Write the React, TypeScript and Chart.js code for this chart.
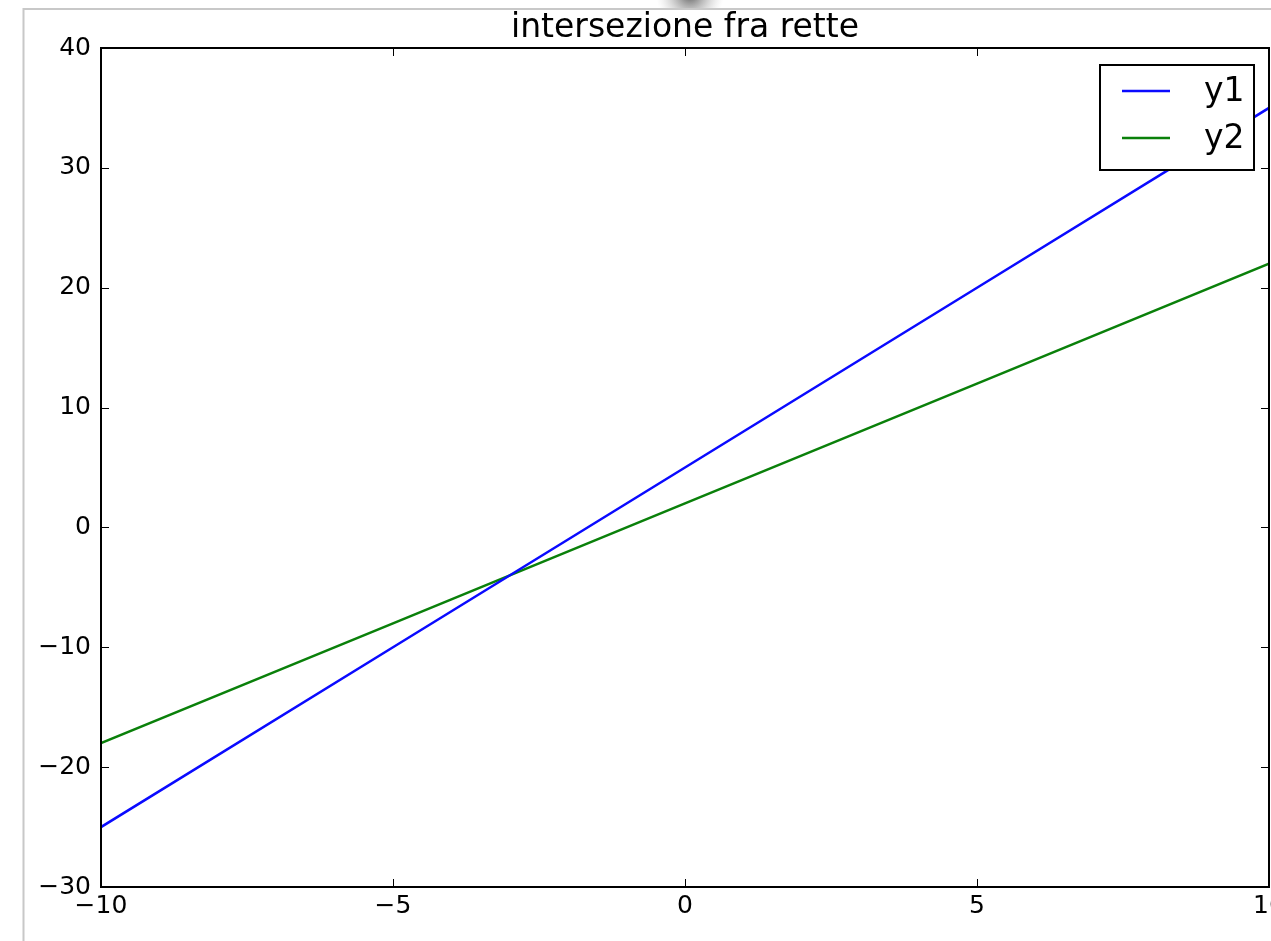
import React, { useEffect, useRef } from "react";
import { Chart, registerables } from "chart.js";

Chart.register(...registerables);

const titleText = "intersezione fra rette";
const xValues = [-10, -5, 0, 5, 10];
const y1Values = [-25, -10, 5, 20, 35];
const y2Values = [-18, -8, 2, 12, 22];
const seriesLabels = ["y1", "y2"];
const seriesColors = ["#0a0aff", "#0a800a"];
const xTicks = [-10, -5, 0, 5, 10];
const yTicks = [-30, -20, -10, 0, 10, 20, 30, 40];

const FONT = "'DejaVu Sans', sans-serif";

const fmt = (v: number) => (v < 0 ? "\u2212" + Math.abs(v) : String(v));

const framePlugin = {
  id: "frame",
  beforeDraw(chart: any) {
    const ctx = chart.ctx;
    ctx.save();
    ctx.fillStyle = "#ffffff";
    ctx.fillRect(0, 0, chart.width, chart.height);
    const g = ctx.createRadialGradient(690, -6, 2, 690, -6, 34);
    g.addColorStop(0, "rgba(90,90,90,0.9)");
    g.addColorStop(1, "rgba(200,200,200,0)");
    ctx.fillStyle = g;
    ctx.fillRect(640, 0, 100, 9);
    ctx.strokeStyle = "#c8c8c8";
    ctx.lineWidth = 2;
    ctx.beginPath();
    ctx.moveTo(23.5, chart.height);
    ctx.lineTo(23.5, 9);
    ctx.lineTo(chart.width, 9);
    ctx.stroke();
    ctx.restore();
  },
  afterDatasetsDraw(chart: any) {
    const ctx = chart.ctx;
    const a = chart.chartArea;
    const xs = chart.scales.x;
    const ys = chart.scales.y;
    ctx.save();
    ctx.strokeStyle = "#000000";
    ctx.lineWidth = 1;
    ctx.beginPath();
    xs.ticks.forEach((t: any) => {
      const px = Math.round(xs.getPixelForValue(t.value)) + 0.5;
      ctx.moveTo(px, a.bottom);
      ctx.lineTo(px, a.bottom - 8);
      ctx.moveTo(px, a.top);
      ctx.lineTo(px, a.top + 8);
    });
    ys.ticks.forEach((t: any) => {
      const py = Math.round(ys.getPixelForValue(t.value)) + 0.5;
      ctx.moveTo(a.left, py);
      ctx.lineTo(a.left + 8, py);
      ctx.moveTo(a.right, py);
      ctx.lineTo(a.right - 8, py);
    });
    ctx.stroke();
    ctx.lineWidth = 2;
    ctx.strokeRect(a.left, a.top, a.right - a.left, a.bottom - a.top);

    const bw = 154;
    const bh = 105;
    const bx = a.right - 15 - bw;
    const by = a.top + 17;
    ctx.fillStyle = "#ffffff";
    ctx.fillRect(bx, by, bw, bh);
    ctx.strokeStyle = "#000000";
    ctx.lineWidth = 2;
    ctx.strokeRect(bx, by, bw, bh);
    ctx.font = "33px " + FONT;
    ctx.textBaseline = "middle";
    ctx.textAlign = "left";
    chart.data.datasets.forEach((ds: any, i: number) => {
      const ry = by + 26 + i * 47;
      ctx.strokeStyle = ds.borderColor;
      ctx.lineWidth = 2.5;
      ctx.beginPath();
      ctx.moveTo(bx + 22, ry);
      ctx.lineTo(bx + 70, ry);
      ctx.stroke();
      ctx.fillStyle = "#000000";
      ctx.fillText(ds.label, bx + 104, ry + 1);
    });
    ctx.restore();
  },
};

export default function App() {
  const ref = useRef<HTMLCanvasElement | null>(null);
  useEffect(() => {
    if (!ref.current) return;
    const chart = new Chart(ref.current, {
      type: "line",
      data: {
        datasets: [
          {
            label: seriesLabels[0],
            data: xValues.map((x, i) => ({ x, y: y1Values[i] })),
            borderColor: seriesColors[0],
            backgroundColor: seriesColors[0],
            borderWidth: 2.5,
            pointRadius: 0,
            tension: 0,
          },
          {
            label: seriesLabels[1],
            data: xValues.map((x, i) => ({ x, y: y2Values[i] })),
            borderColor: seriesColors[1],
            backgroundColor: seriesColors[1],
            borderWidth: 2.5,
            pointRadius: 0,
            tension: 0,
          },
        ],
      },
      options: {
        animation: false,
        responsive: false,
        events: [],
        layout: { padding: { top: 0, left: 0, right: 2, bottom: 0 } },
        plugins: {
          legend: { display: false },
          tooltip: { enabled: false },
          title: {
            display: true,
            fullSize: false,
            text: titleText,
            color: "#000000",
            font: { family: FONT, size: 33, weight: "normal", lineHeight: 1.2 },
            padding: { top: 8.4, bottom: 0 },
          },
        },
        scales: {
          x: {
            type: "linear",
            min: -10,
            max: 10,
            afterBuildTicks: (s: any) => {
              s.ticks = xTicks.map((v) => ({ value: v }));
            },
            afterFit: (s: any) => {
              s.height = 54;
              s.paddingLeft = 0;
              s.paddingRight = 0;
            },
            grid: { display: false, drawTicks: false },
            border: { display: false },
            ticks: {
              padding: 4,
              color: "#000000",
              maxRotation: 0,
              autoSkip: false,
              font: { family: FONT, size: 25 },
              callback: (v: any) => fmt(Number(v)),
            },
          },
          y: {
            type: "linear",
            min: -30,
            max: 40,
            afterBuildTicks: (s: any) => {
              s.ticks = yTicks.map((v) => ({ value: v }));
            },
            afterFit: (s: any) => {
              s.width = 101;
              s.paddingTop = 0;
              s.paddingBottom = 0;
            },
            grid: { display: false, drawTicks: false },
            border: { display: false },
            ticks: {
              padding: 10,
              color: "#000000",
              autoSkip: false,
              font: { family: FONT, size: 25 },
              callback: (v: any) => fmt(Number(v)),
            },
          },
        },
      },
      plugins: [framePlugin],
    } as any);
    return () => chart.destroy();
  }, []);
  return (
    <div style={{ position: "fixed", left: 0, top: 0, width: 1271, height: 941 }}>
      <canvas ref={ref} width={1271} height={941} style={{ display: "block" }} />
    </div>
  );
}
